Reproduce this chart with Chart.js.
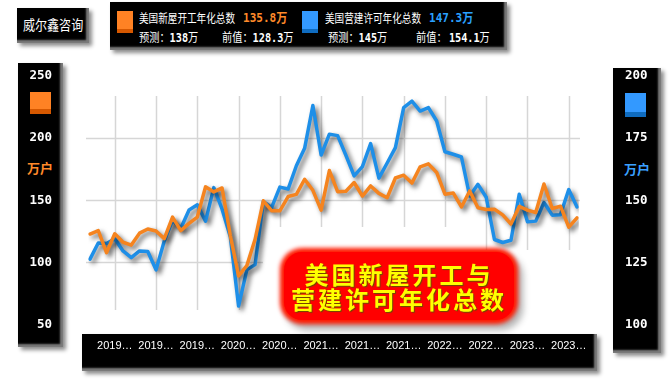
<!DOCTYPE html>
<html>
<head>
<meta charset="utf-8">
<script src="https://cdn.jsdelivr.net/npm/chart.js@4.4.0/dist/chart.umd.min.js"></script>
<style>
  html,body{margin:0;padding:0;background:#fff;}
  body{width:670px;height:380px;position:relative;overflow:hidden;font-family:"Noto Sans CJK SC","DejaVu Sans",sans-serif;}
  .box{position:absolute;background:#000;box-shadow:inset -3px -3px 2px #7a7a7a, 3px 3px 4px rgba(0,0,0,0.45);}
  .t{position:absolute;white-space:nowrap;transform-origin:left center;line-height:14px;}
  .num{font-family:"DejaVu Sans Mono","Noto Sans CJK SC",monospace;font-weight:bold;}
  .sq{position:absolute;}
  #c{position:absolute;left:0;top:0;z-index:1;}
  #title{position:absolute;left:284px;top:252px;width:230px;height:68px;background:#ff0000;border-radius:18px;
    box-shadow:0 0 4px 4px #ff1a00, 5px 6px 7px 4px rgba(0,0,0,0.3);z-index:2;text-align:center;
    color:#ffff00;font-weight:bold;font-size:24px;line-height:25px;letter-spacing:3px;padding-top:9px;box-sizing:border-box;
    text-shadow:1px 1px 1px #6b4a00;}
  .unit{position:absolute;font-weight:bold;font-size:13px;line-height:14px;}
</style>
</head>
<body>
<div class="box" style="left:17px;top:8px;width:72px;height:35px;"></div>
<div class="t" style="left:23px;top:17px;color:#fff;font-size:14px;transform:scaleX(0.86);z-index:1">威尔鑫咨询</div>

<div class="box" style="left:110px;top:2px;width:397px;height:48px;"></div>
<div class="sq" style="left:117px;top:11px;width:16px;height:22px;background:linear-gradient(#ff8224 0,#ff8224 80%,#d65800 80%)"></div>
<div class="t" style="left:139px;top:11px;color:#fff;font-size:12px;transform:scaleX(0.8)">美国新屋开工年化总数</div>
<div class="t num" style="left:243px;top:11px;color:#ff8a2a;font-size:13px;transform:scaleX(0.85)">135.8万</div>
<div class="t" style="left:139px;top:30px;color:#fff;font-size:12px;transform:scaleX(0.85)">预测：<span class="num">138</span>万</div>
<div class="t" style="left:222px;top:30px;color:#fff;font-size:12px;transform:scaleX(0.85)">前值：<span class="num">128.3</span>万</div>
<div class="sq" style="left:302px;top:11px;width:16px;height:22px;background:linear-gradient(#3399ff 0,#3399ff 80%,#0f6cc0 80%)"></div>
<div class="t" style="left:325px;top:11px;color:#fff;font-size:12px;transform:scaleX(0.8)">美国营建许可年化总数</div>
<div class="t num" style="left:429px;top:11px;color:#2aa0ff;font-size:13px;transform:scaleX(0.85)">147.3万</div>
<div class="t" style="left:328px;top:30px;color:#fff;font-size:12px;transform:scaleX(0.85)">预测：<span class="num">145</span>万</div>
<div class="t" style="left:416px;top:30px;color:#fff;font-size:12px;transform:scaleX(0.85)">前值： <span class="num">154.1</span>万</div>

<div class="box" style="left:18px;top:63px;width:45px;height:284px;"></div>
<div class="sq" style="left:30px;top:92px;width:21px;height:22px;background:linear-gradient(#ff8224 0,#ff8224 77%,#d65800 77%)"></div>
<div class="unit" style="left:27px;top:161px;color:#ff8a2a">万户</div>

<div class="box" style="left:613px;top:68px;width:48px;height:285px;"></div>
<div class="sq" style="left:625px;top:93px;width:21px;height:24px;background:linear-gradient(#3399ff 0,#3399ff 78%,#0f6cc0 78%)"></div>
<div class="unit" style="left:624px;top:162px;color:#3ba0ff">万户</div>

<div class="box" style="left:82px;top:334px;width:515px;height:37px;"></div>

<canvas id="c" width="670" height="380"></canvas>
<div id="title"><div>美国新屋开工与</div><div>营建许可年化总数</div></div>

<script>
// ---- data (万 units, seasonally adjusted annual rate) ----
const months = ["2018-10","2018-11","2018-12",
  "2019-01","2019-02","2019-03","2019-04","2019-05","2019-06","2019-07","2019-08","2019-09","2019-10","2019-11","2019-12",
  "2020-01","2020-02","2020-03","2020-04","2020-05","2020-06","2020-07","2020-08","2020-09","2020-10","2020-11","2020-12",
  "2021-01","2021-02","2021-03","2021-04","2021-05","2021-06","2021-07","2021-08","2021-09","2021-10","2021-11","2021-12",
  "2022-01","2022-02","2022-03","2022-04","2022-05","2022-06","2022-07","2022-08","2022-09","2022-10","2022-11","2022-12",
  "2023-01","2023-02","2023-03","2023-04","2023-05","2023-06","2023-07","2023-08","2023-09"];
const housingStarts = [122.8,125.6,107.8,
  123.0,116.2,113.9,123.5,126.9,125.3,119.1,136.4,125.6,131.4,136.5,160.8,
  156.7,159.9,121.6,89.1,97.4,118.6,149.6,141.6,141.5,153.0,154.7,166.9,
  158.0,142.1,173.9,156.9,157.2,164.3,153.4,161.5,155.5,152.0,167.9,170.2,
  163.8,176.9,179.3,172.4,154.9,155.9,144.6,157.5,143.9,142.5,142.7,138.2,
  130.9,145.0,142.0,140.1,163.1,143.4,145.2,128.3,135.8];
const buildingPermits = [126.3,132.8,132.6,
  134.5,129.6,126.9,129.6,129.4,122.0,133.6,141.9,138.7,146.1,148.2,141.6,
  155.1,146.4,135.3,107.4,122.0,124.1,149.5,147.0,155.3,154.5,163.9,170.9,
  188.1,168.2,176.6,176.0,168.1,159.8,163.5,172.8,158.9,165.0,171.2,187.3,
  189.9,185.9,187.3,181.9,169.5,168.5,167.4,151.7,156.4,151.2,134.2,133.0,
  133.9,152.4,141.3,141.6,149.1,144.0,144.2,154.3,147.3];
const leftTicks = [50,100,150,200,250];
const rightTicks = [100,125,150,175,200];
const gridValues = [100,150,200];
const labelStep = 5, labelStart = 3;

const gridPlugin = {
  id:'customGrid',
  beforeDatasetsDraw(chart){
    const {ctx, scales} = chart;
    const x = scales.x, yL = scales.yL;
    ctx.save();
    ctx.strokeStyle = '#d6d6d6';
    ctx.lineWidth = 1.5;
    months.forEach((m,i)=>{
      if (i % labelStep !== labelStart) return;
      const px = Math.round(x.getPixelForValue(i)) + 0.5;
      const bottom = px < 265 ? 310 : (px < 470 ? 227 : 250);
      ctx.beginPath(); ctx.moveTo(px, 96); ctx.lineTo(px, bottom); ctx.stroke();
    });
    gridValues.forEach(v=>{
      const py = Math.round(yL.getPixelForValue(v)) + 0.5;
      const right = v === 100 ? 263 : 580;
      ctx.beginPath(); ctx.moveTo(86, py); ctx.lineTo(right, py); ctx.stroke();
    });
    ctx.restore();
  }
};
const shadowPlugin = {
  id:'lineShadow',
  beforeDatasetDraw(chart){
    const c = chart.ctx; c.save();
    c.shadowColor = 'rgba(0,0,0,0.6)'; c.shadowBlur = 5; c.shadowOffsetX = 3; c.shadowOffsetY = 3;
  },
  afterDatasetDraw(chart){ chart.ctx.restore(); }
};

const tickFont = {family:'DejaVu Sans Mono', weight:'bold', size:12.5};
new Chart(document.getElementById('c'), {
  type:'line',
  data:{
    labels: months,
    datasets:[
      {label:'美国新屋开工年化总数', data: housingStarts, yAxisID:'yL', borderColor:'#f5841f', borderWidth:3.5},
      {label:'美国营建许可年化总数', data: buildingPermits, yAxisID:'yR', borderColor:'#1e8fe8', borderWidth:3.5}
    ]
  },
  options:{
    responsive:false, animation:false, devicePixelRatio:1,
    layout:{padding:{top:76,left:0,right:0,bottom:0}},
    plugins:{legend:{display:false}, tooltip:{enabled:false}},
    elements:{point:{radius:0}, line:{tension:0, borderJoinStyle:'round', borderCapStyle:'round'}},
    scales:{
      x:{type:'category', offset:false,
        grid:{display:false, drawTicks:false}, border:{display:false},
        ticks:{autoSkip:false, maxRotation:0, minRotation:0, padding:15, color:'#fff',
          font:{family:'Liberation Sans', size:11},
          callback:(v,i)=> (i % labelStep === labelStart) ? months[i].slice(0,4)+'…' : ''},
        afterFit:s=>{ s.height = 48; }
      },
      yL:{position:'left', min:50, max:250,
        afterBuildTicks:s=>{ s.ticks = leftTicks.map(v=>({value:v})); },
        afterFit:s=>{ s.width = 90; },
        grid:{display:false, drawTicks:false}, border:{display:false},
        ticks:{padding:38, color:'#fff', font:tickFont}
      },
      yR:{position:'right', min:100, max:200,
        afterBuildTicks:s=>{ s.ticks = rightTicks.map(v=>({value:v})); },
        afterFit:s=>{ s.width = 93; },
        grid:{display:false, drawTicks:false}, border:{display:false},
        ticks:{padding:48, color:'#fff', font:tickFont}
      }
    }
  },
  plugins:[gridPlugin, shadowPlugin]
});
</script>
</body>
</html>
